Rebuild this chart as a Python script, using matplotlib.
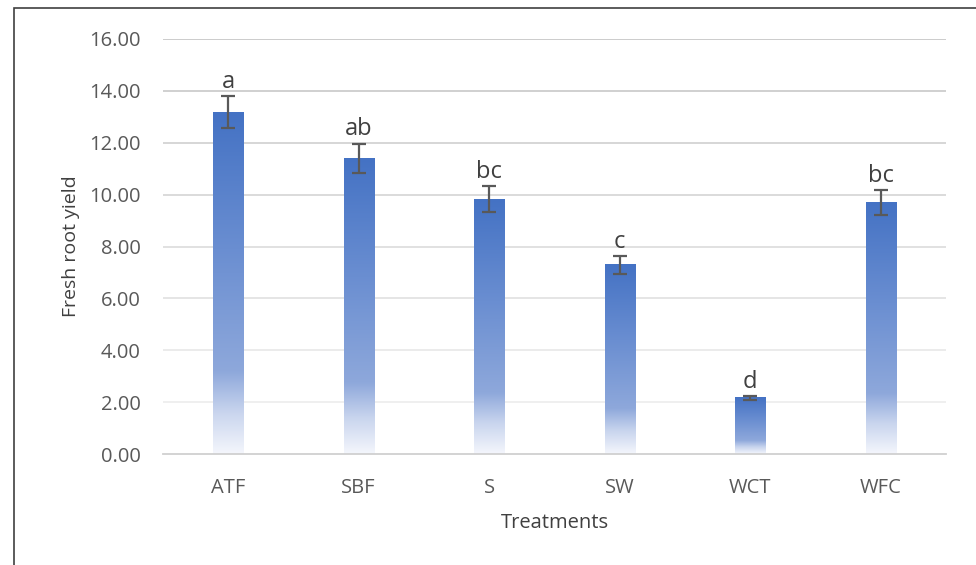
import matplotlib
matplotlib.use("Agg")
import matplotlib.pyplot as plt
import numpy as np
from matplotlib.colors import LinearSegmentedColormap, to_rgb
from matplotlib.patches import Rectangle

categories = ["ATF", "SBF", "S", "SW", "WCT", "WFC"]
values = [13.18, 11.41, 9.83, 7.29, 2.16, 9.71]
errors = [0.63, 0.56, 0.50, 0.36, 0.09, 0.48]
letters = ["a", "ab", "bc", "c", "d", "bc"]

plt.rcParams['font.family'] = ['Open Sans', 'DejaVu Sans']

fig = plt.figure(figsize=(9.76, 5.65), dpi=100)
ax = fig.add_axes([163/976, 1-454/565, (946-163)/976, (454-39)/565])

# figure frame
fig.patches.append(Rectangle((14/976, -0.1), 1.2, 1-8/565+0.1, transform=fig.transFigure,
                             fill=False, edgecolor="#404040", linewidth=1.2))

cmap = LinearSegmentedColormap.from_list(
    "grad", [(0.0, "#F4F6FC"), (0.12, "#C9D5EE"), (0.24, "#8EA8DB"), (0.6, "#6A8ED1"), (1.0, "#4472C4")])
grad = np.linspace(0, 1, 256).reshape(-1, 1)

yticks = np.arange(0, 17, 2)
# gridlines: slightly darker at top, lighter toward bottom
c_top = np.array(to_rgb("#C8C8C8"))
c_bot = np.array(to_rgb("#EEEEEE"))
for t in yticks[1:]:
    f = (t - 2) / 14
    ax.axhline(t, color=tuple(c_bot + (c_top - c_bot) * f), linewidth=1.3, zorder=0)

x = np.arange(len(categories))
w = 0.23
for xi, v in zip(x, values):
    ax.imshow(grad, cmap=cmap, origin="lower", aspect="auto",
              extent=[xi - w/2, xi + w/2, 0, v], zorder=2, interpolation="bilinear")

ax.errorbar(x, values, yerr=errors, fmt="none", ecolor="#595959", elinewidth=1.6,
            capsize=5, capthick=1.6, zorder=3)

for xi, v, e, t in zip(x, values, errors, letters):
    ax.text(xi, v + e + 0.08, t, ha="center", va="bottom", fontsize=17, color="#404040")

ax.set_xlim(-0.5, len(categories) - 0.5)
ax.set_ylim(0, 16)
ax.set_yticks(yticks)
ax.set_yticklabels([f"{t:.2f}" for t in yticks])
ax.set_xticks(x)
ax.set_xticklabels(categories)
for s in ["top", "right", "left"]:
    ax.spines[s].set_visible(False)
ax.spines["bottom"].set_color("#D0D0D0")
ax.spines["bottom"].set_linewidth(1.3)
ax.tick_params(axis="both", length=0, labelsize=14.5, colors="#595959")
ax.tick_params(axis="y", pad=16)
ax.tick_params(axis="x", pad=17)
ax.set_xlabel("Treatments", fontsize=14.5, color="#404040", labelpad=11)
ax.set_ylabel("Fresh root yield", fontsize=14, color="#404040", labelpad=7)

fig.savefig("out.png", dpi=100)
